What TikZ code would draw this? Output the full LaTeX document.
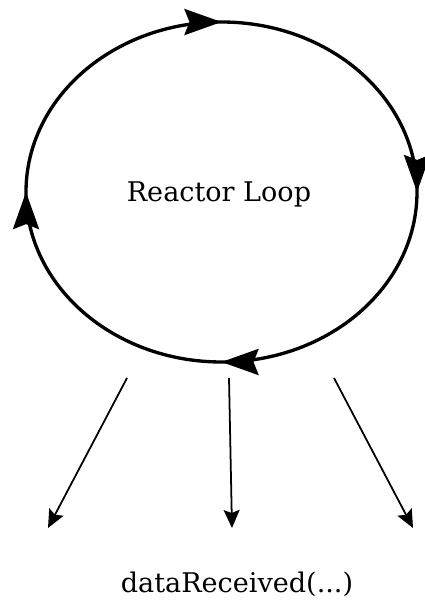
\documentclass[tikz,border=0pt]{standalone}
\usepackage{fontspec}
\setmainfont{DejaVu Serif}
\usepackage{tikz}
\usetikzlibrary{arrows.meta, calc, decorations.markings}

\begin{document}
\begin{tikzpicture}[
    bigtip/.tip={Stealth[length=0.74cm, width=0.52cm, inset=0.1cm]},
    ring/.style={line width=1.9pt, postaction={decorate}, decoration={markings,
                 mark=at position 0.25 with {\arrow{bigtip}},
                 mark=at position 0.5 with {\arrow{bigtip}},
                 mark=at position 0.75 with {\arrow{bigtip}},
                 mark=at position 0.9999 with {\arrow{bigtip}}}},
    arr/.style={line width=1pt, -{Stealth[length=0.36cm, width=0.32cm, inset=0.06cm]}},
    lbl/.style={font=\fontsize{15.4}{18}\selectfont, inner sep=0pt, anchor=base}
  ]
  \useasboundingbox (0,0) rectangle (8.5,12);

  \coordinate (hub) at (4.43, 8.16);
  \node[lbl] (loop) at (4.38, 7.96) {Reactor Loop};

  % loop, clockwise from the left
  \draw[ring] ($(hub)+(-3.91,0)$) arc[start angle=180, end angle=-180, x radius=3.91cm, y radius=3.4cm];

  \coordinate (s1) at (2.54, 4.44);
  \coordinate (s2) at (4.58, 4.44);
  \coordinate (s3) at (6.68, 4.44);
  \coordinate (e1) at (0.96, 1.44);
  \coordinate (e2) at (4.64, 1.44);
  \coordinate (e3) at (8.26, 1.44);

  \node[lbl] (cb) at (4.74, 0.14) {dataReceived(...)};

  \foreach \n in {1,2,3}
    \draw[arr] (s\n) -- (e\n);

\end{tikzpicture}
\end{document}
